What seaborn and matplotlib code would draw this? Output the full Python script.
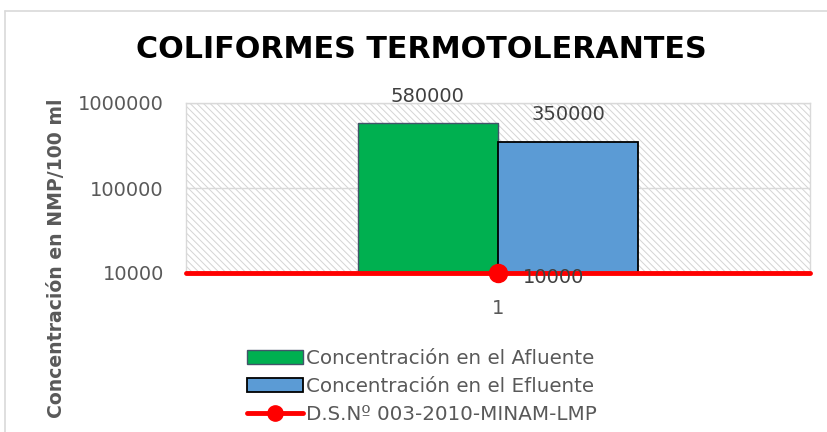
import pandas as pd
import matplotlib.pyplot as plt
import seaborn as sns
from matplotlib.patches import Patch, Rectangle
from matplotlib.lines import Line2D

# data
muestras = ['1']
afluente = [580000]
efluente = [350000]
limite = [10000]
series = ['Concentración en el Afluente', 'Concentración en el Efluente']
norma = 'D.S.Nº 003-2010-MINAM-LMP'

df = pd.DataFrame({
    'Muestra': muestras * 2,
    'Valor': afluente + efluente,
    'Serie': [series[0]] * len(muestras) + [series[1]] * len(muestras),
})

sns.set_style('white')
plt.rcParams['font.family'] = ['DejaVu Sans']
plt.rcParams['hatch.linewidth'] = 0.7

verde = '#00b050'
azul = '#5b9bd5'
rojo = '#ff0000'
gris = '#595959'

fig = plt.figure(figsize=(8.28, 4.32), dpi=100)
ax = fig.add_axes([186/828, 1 - 273/432, (810-186)/828, (273-103)/432])
ax.set_yscale('log')

# hatched background
bg = Rectangle((0, 0), 1, 1, transform=ax.transAxes, facecolor='white',
               edgecolor='#d4d4d4', hatch='\\\\\\\\\\', lw=0, zorder=0)
ax.add_patch(bg)

sns.barplot(data=df, x='Muestra', y='Valor', hue='Serie', palette=[verde, azul],
            saturation=1, width=0.45, ax=ax, zorder=2, legend=False)
for p, ec, lw in zip([b for b in ax.patches if b is not bg], ['#44546a', '#000000'], [1.0, 1.3]):
    p.set_edgecolor(ec)
    p.set_linewidth(lw)

ax.set_xlim(-0.5, 0.5)
ax.set_ylim(1e4, 1e6)
ax.set_yticks([1e4, 1e5, 1e6])
ax.set_yticklabels(['10000', '100000', '1000000'])
ax.minorticks_off()
ax.yaxis.grid(True, color='#d9d9d9', lw=1, zorder=1)
ax.set_axisbelow(True)

# limit line
ax.axhline(limite[0], color=rojo, lw=3.5, zorder=4, clip_on=False)
ax.plot(range(len(muestras)), limite, 'o', color=rojo, ms=13, zorder=5, clip_on=False)

# data labels
for i in range(len(muestras)):
    ax.annotate(f'{afluente[i]}', (i - 0.1125, afluente[i]), xytext=(0, 19.5),
                textcoords='offset points', ha='center', va='center', fontsize=14, color='#404040')
    ax.annotate(f'{efluente[i]}', (i + 0.1125, efluente[i]), xytext=(0, 19.5),
                textcoords='offset points', ha='center', va='center', fontsize=14, color='#404040')
    ax.annotate(f'{limite[i]}', (i, limite[i]), xytext=(40, -3),
                textcoords='offset points', ha='center', va='center', fontsize=14, color='#404040', zorder=6)

for s in ax.spines.values():
    s.set_color('#d9d9d9')
    s.set_linewidth(1)
ax.tick_params(axis='both', length=0, labelsize=14, labelcolor=gris)
ax.tick_params(axis='x', pad=19)
ax.tick_params(axis='y', pad=16)
ax.set_xlabel('')
ax.set_ylabel('')

fig.text(421/828, 1 - 50/432, 'COLIFORMES TERMOTOLERANTES', ha='center', va='center',
         fontsize=21.7, fontweight='bold', color='black')
fig.text(57/828, 1 - 258/432, 'Concentración en NMP/100 ml', rotation=90, ha='center', va='center',
         fontsize=13.6, fontweight='bold', color=gris)

handles = [
    Patch(facecolor=verde, edgecolor='#44546a', lw=1.0),
    Patch(facecolor=azul, edgecolor='#000000', lw=1.3),
    Line2D([], [], color=rojo, lw=3.5, marker='o', ms=11),
]
fig.legend(handles, series + [norma], loc='upper left', bbox_to_anchor=(239/828, 1 - 341/432),
           frameon=False, fontsize=14.3, labelcolor=gris, handlelength=2.8, handleheight=0.7,
           handletextpad=0.15, labelspacing=0.45, borderaxespad=0)

# chart border
fig.add_artist(Line2D([5/828, 1], [1 - 11/432] * 2, color='#d9d9d9', lw=1.2, transform=fig.transFigure))
fig.add_artist(Line2D([5/828] * 2, [0, 1 - 11/432], color='#d9d9d9', lw=1.2, transform=fig.transFigure))

fig.savefig('out.png', dpi=100)
